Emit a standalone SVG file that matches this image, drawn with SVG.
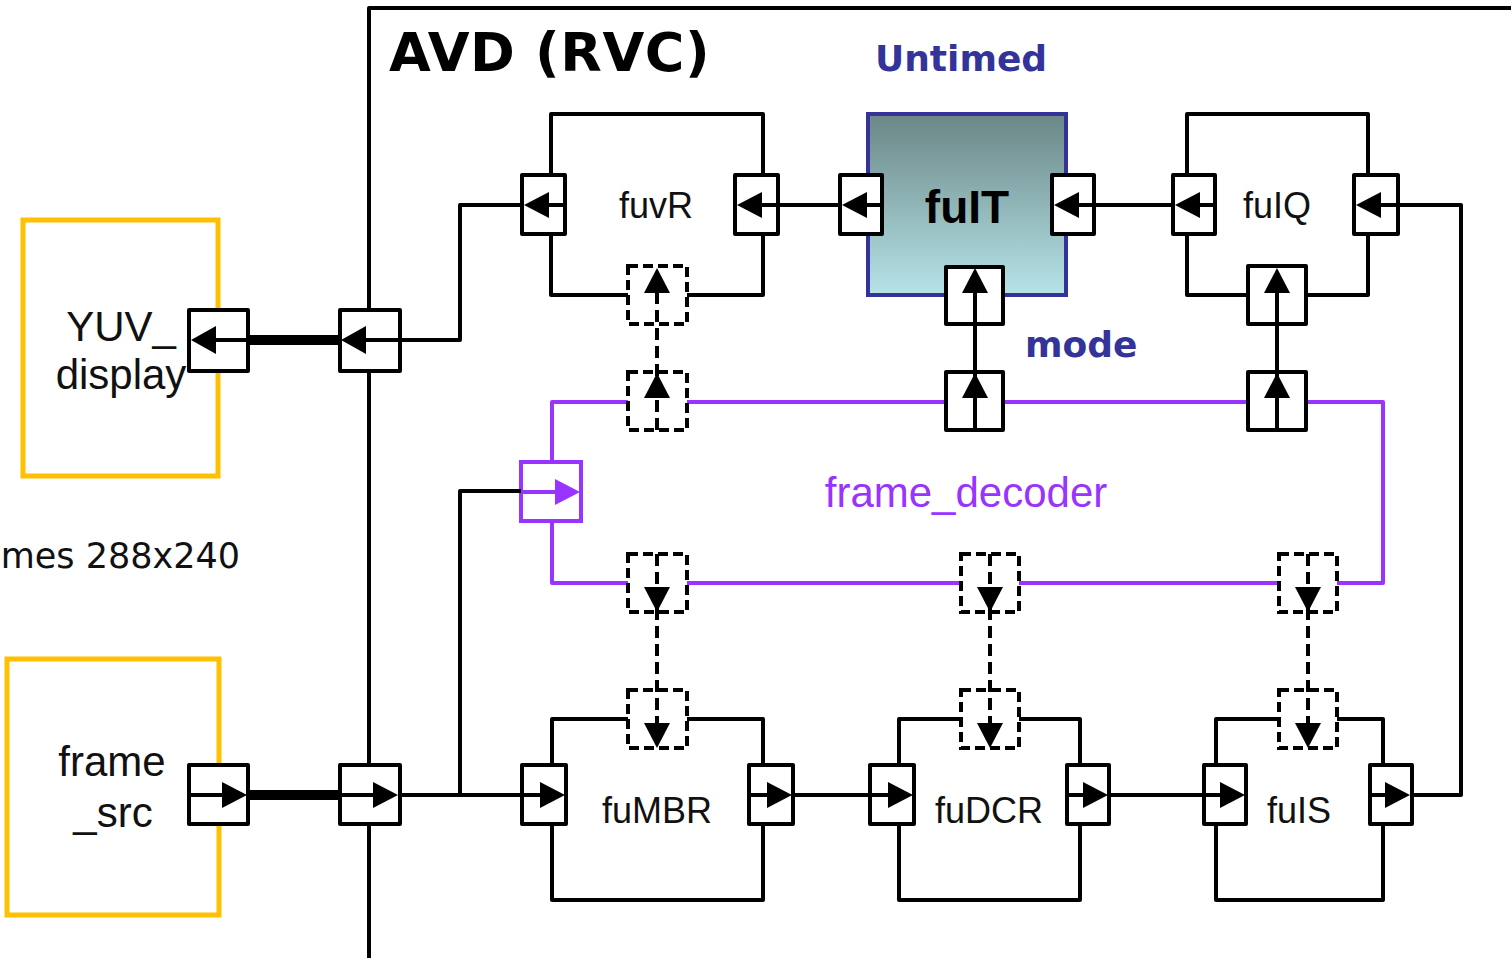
<svg xmlns="http://www.w3.org/2000/svg" width="1511" height="958" viewBox="0 0 1511 958">
<defs>
<linearGradient id="gIT" x1="0" y1="0" x2="0" y2="1">
<stop offset="0" stop-color="#6B8686"/>
<stop offset="1" stop-color="#B6E4E8"/>
</linearGradient>
</defs>
<style>
.ln{fill:none;stroke:#000;stroke-width:4;stroke-linejoin:round}
.thick{fill:none;stroke:#000;stroke-width:10}
.comp{fill:none;stroke:#000;stroke-width:4;stroke-linejoin:round}
.ext{fill:#fff;stroke:#FFC000;stroke-width:5}
.port{fill:#fff;stroke:#000;stroke-width:4;stroke-linejoin:round}
.dport{fill:#fff;stroke:#000;stroke-width:4;stroke-dasharray:10 5}
.dl{fill:none;stroke:#000;stroke-width:4;stroke-dasharray:12 6}
.tri{fill:#000}
.pur{fill:none;stroke:#9933FF;stroke-width:4;stroke-linejoin:round}
.lbl{font-family:"Liberation Sans",Arial,sans-serif;font-size:36px;fill:#111;text-anchor:middle}
.ext-lbl{font-family:"Liberation Sans",Arial,sans-serif;font-size:42px;fill:#111;text-anchor:middle}
</style>

<!-- AVD frame -->
<g id="avd">
<path class="ln" d="M369 958 V8 H1511"/>
<text x="389" y="71" font-family="DejaVu Sans,Verdana,sans-serif" font-weight="bold" font-size="54" letter-spacing="0.6" fill="#000">AVD (RVC)</text>
<text x="875" y="71" font-family="DejaVu Sans,Verdana,sans-serif" font-weight="bold" font-size="36" fill="#333399">Untimed</text>
<text x="1025" y="357" font-family="DejaVu Sans,Verdana,sans-serif" font-weight="bold" font-size="36" fill="#333399">mode</text>
</g>

<text x="240" y="568" font-family="DejaVu Sans,Verdana,sans-serif" font-size="35" fill="#111" text-anchor="end">mes 288x240</text>

<!-- External actors -->
<g id="yuv_display">
<rect class="ext" x="23" y="220" width="195" height="256"/>
<text class="ext-lbl" x="121" y="341">YUV_</text>
<text class="ext-lbl" x="121" y="389">display</text>
</g>
<g id="frame_src">
<rect class="ext" x="7" y="659" width="212" height="256"/>
<text class="ext-lbl" x="112" y="776">frame</text>
<text class="ext-lbl" x="113" y="827">_src</text>
</g>

<!-- frame_decoder -->
<g id="frame_decoder">
<rect class="pur" x="552" y="402" width="831" height="181"/>
<text x="966" y="507" font-family="Liberation Sans,Arial,sans-serif" font-size="42" fill="#9933FF" text-anchor="middle">frame_decoder</text>
</g>

<!-- Components -->
<g id="fuvR">
<rect class="comp" x="551" y="114" width="212" height="181"/>
<text class="lbl" x="656" y="218">fuvR</text>
</g>
<g id="fuIT">
<rect x="868" y="114" width="198" height="181" fill="url(#gIT)" stroke="#333399" stroke-width="4"/>
<text x="967" y="223" font-family="Liberation Sans,Arial,sans-serif" font-weight="bold" font-size="46" fill="#000" text-anchor="middle">fuIT</text>
</g>
<g id="fuIQ">
<rect class="comp" x="1187" y="114" width="181" height="181"/>
<text class="lbl" x="1277" y="218">fuIQ</text>
</g>
<g id="fuMBR">
<rect class="comp" x="552" y="719" width="211" height="181"/>
<text class="lbl" x="657" y="823">fuMBR</text>
</g>
<g id="fuDCR">
<rect class="comp" x="899" y="719" width="181" height="181"/>
<text class="lbl" x="989" y="823">fuDCR</text>
</g>
<g id="fuIS">
<rect class="comp" x="1216" y="719" width="167" height="181"/>
<text class="lbl" x="1299" y="823">fuIS</text>
</g>

<!-- Ports -->
<g id="ports">
<rect class="port" x="189" y="310" width="59" height="61"/>
<rect class="port" x="340" y="310" width="60" height="61"/>
<rect class="port" x="189" y="765" width="59" height="59"/>
<rect class="port" x="340" y="765" width="60" height="59"/>
<rect class="port" x="522" y="175" width="43" height="59"/>
<rect class="port" x="735" y="175" width="43" height="59"/>
<rect class="port" x="840" y="175" width="42" height="59"/>
<rect class="port" x="1052" y="175" width="42" height="59"/>
<rect class="port" x="1173" y="175" width="42" height="59"/>
<rect class="port" x="1354" y="175" width="44" height="59"/>
<rect class="dport" x="628" y="266" width="59" height="58"/>
<rect class="port" x="946" y="267" width="57" height="57"/>
<rect class="port" x="1248" y="266" width="58" height="58"/>
<rect class="dport" x="628" y="372" width="59" height="58"/>
<rect class="port" x="946" y="372" width="57" height="58"/>
<rect class="port" x="1248" y="372" width="58" height="58"/>
<rect x="521" y="462" width="60" height="59" fill="#fff" stroke="#9933FF" stroke-width="4"/>
<rect class="dport" x="628" y="554" width="59" height="58"/>
<rect class="dport" x="961" y="554" width="58" height="58"/>
<rect class="dport" x="1279" y="554" width="58" height="58"/>
<rect class="dport" x="628" y="690" width="59" height="58"/>
<rect class="dport" x="961" y="690" width="58" height="58"/>
<rect class="dport" x="1279" y="690" width="58" height="58"/>
<rect class="port" x="522" y="765" width="44" height="59"/>
<rect class="port" x="749" y="765" width="44" height="59"/>
<rect class="port" x="870" y="765" width="44" height="59"/>
<rect class="port" x="1067" y="765" width="42" height="59"/>
<rect class="port" x="1204" y="765" width="42" height="59"/>
<rect class="port" x="1370" y="765" width="42" height="59"/>
</g>

<!-- Connectors -->
<g id="connectors">
<path class="thick" d="M248 340 H340"/>
<path class="ln" d="M215 340 H248 M366 340 H400 H460 V205 H522 M546 205 H565"/>
<polygon class="tri" points="191,340 216,326 216,354"/>
<polygon class="tri" points="341,340 366,326 366,354"/>
<polygon class="tri" points="524,205 549,192 549,218"/>
<path class="ln" d="M760 205 H778 M778 205 H840 M864 205 H882"/>
<polygon class="tri" points="737,205 762,192 762,218"/>
<polygon class="tri" points="842,205 867,192 867,218"/>
<path class="ln" d="M1076 205 H1094 H1173 M1197 205 H1215"/>
<polygon class="tri" points="1054,205 1079,192 1079,218"/>
<polygon class="tri" points="1175,205 1200,192 1200,218"/>
<path class="ln" d="M1378 205 H1398 H1461 V795 H1412 M1370 795 H1390"/>
<polygon class="tri" points="1356,205 1381,192 1381,218"/>
<polygon class="tri" points="1410,795 1385,782 1385,808"/>
<path class="thick" d="M248 795 H340"/>
<path class="ln" d="M189 795 H224 M340 795 H375 M400 795 H522 M460 795 V491 H521"/>
<polygon class="tri" points="247,795 222,782 222,808"/>
<polygon class="tri" points="398,795 373,782 373,808"/>
<path d="M521 492 H557" fill="none" stroke="#9933FF" stroke-width="4"/>
<polygon points="580,492 555,479 555,505" fill="#9933FF"/>
<path class="ln" d="M522 795 H543 M749 795 H770 M793 795 H870 H892 M1067 795 H1088 M1109 795 H1204 H1226"/>
<polygon class="tri" points="565,795 540,782 540,808"/>
<polygon class="tri" points="792,795 767,782 767,808"/>
<polygon class="tri" points="913,795 888,782 888,808"/>
<polygon class="tri" points="1108,795 1083,782 1083,808"/>
<polygon class="tri" points="1245,795 1220,782 1220,808"/>
<path class="ln" d="M975 430 V290 M1277 430 V290"/>
<polygon class="tri" points="975,268 962,293 988,293"/>
<polygon class="tri" points="975,373 962,398 988,398"/>
<polygon class="tri" points="1277,268 1264,293 1290,293"/>
<polygon class="tri" points="1277,373 1264,398 1290,398"/>
<path class="dl" d="M657 430 V290"/>
<polygon class="tri" points="657,268 644,293 670,293"/>
<polygon class="tri" points="657,373 644,398 670,398"/>
<path class="dl" d="M657 554 V725 M990 554 V725 M1308 554 V725"/>
<polygon class="tri" points="657,612 644,587 670,587"/>
<polygon class="tri" points="657,748 644,723 670,723"/>
<polygon class="tri" points="990,612 977,587 1003,587"/>
<polygon class="tri" points="990,748 977,723 1003,723"/>
<polygon class="tri" points="1308,612 1295,587 1321,587"/>
<polygon class="tri" points="1308,748 1295,723 1321,723"/>
</g>
</svg>
